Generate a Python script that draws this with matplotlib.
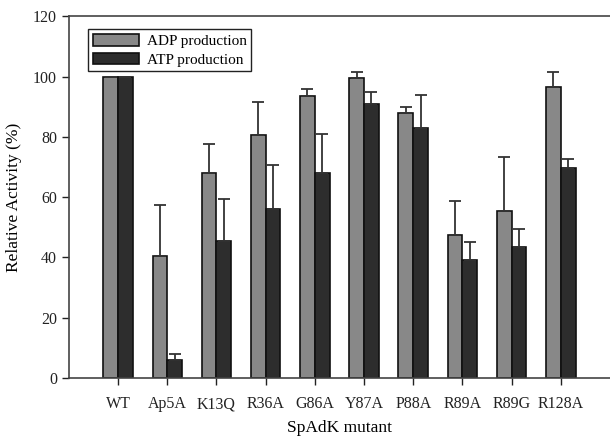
import numpy as np
import matplotlib.pyplot as plt

plt.rcParams['font.family'] = ['Liberation Serif', 'DejaVu Serif']

# data
mutants = ['WT', 'Ap5A', 'K13Q', 'R36A', 'G86A', 'Y87A', 'P88A', 'R89A', 'R89G', 'R128A']
adp = [100, 40.5, 68, 80.5, 93.5, 99.5, 88, 47.5, 55.5, 96.5]
adp_err = [0, 17, 9.5, 11, 2.3, 2, 1.8, 11.3, 17.7, 5]
atp = [100, 6, 45.3, 56, 68, 91, 83, 39, 43.5, 69.5]
atp_err = [0, 2, 14, 14.7, 13, 4, 11, 6, 5.8, 3.3]

fig = plt.figure(figsize=(6.1, 4.38), dpi=100)
ax = fig.add_axes([0.113, 0.137, 0.887, 0.826])

x = np.arange(len(mutants))
w = 0.3
ekw = dict(ecolor='#333333', elinewidth=1.3, capsize=4, capthick=1.3)
ax.bar(x - w/2, adp, w, color='#888888', edgecolor='#111111', linewidth=1.2,
       yerr=[np.zeros(len(adp)), adp_err], error_kw=ekw, label='ADP production')
ax.bar(x + w/2, atp, w, color='#2d2d2d', edgecolor='#111111', linewidth=1.2,
       yerr=[np.zeros(len(atp)), atp_err], error_kw=ekw, label='ATP production')

ax.set_xlim(-1, 10)
ax.set_ylim(0, 120)
ax.set_yticks(range(0, 121, 20))
ax.set_xticks(x)
ax.set_xticklabels(mutants)
ax.tick_params(axis='both', direction='out', length=5, width=1, labelsize=11.5, colors='#222222')
ax.tick_params(axis='x', pad=8)
ax.spines['right'].set_visible(False)
for s in ['left', 'top', 'bottom']:
    ax.spines[s].set_color('#444444')
    ax.spines[s].set_linewidth(1.2)

ax.set_xlabel('SpAdK mutant', fontsize=12.5, labelpad=6)
ax.set_ylabel('Relative Activity (%)', fontsize=12.5, labelpad=8)

leg = ax.legend(loc='upper left', bbox_to_anchor=(0.022, 0.985), fontsize=11, fancybox=False,
                edgecolor='#222222', framealpha=1, borderpad=0.3, handlelength=3.0,
                handleheight=0.8, labelspacing=0.3, handletextpad=0.5)
leg.get_frame().set_linewidth(1.0)

fig.savefig('out.png', dpi=100)
